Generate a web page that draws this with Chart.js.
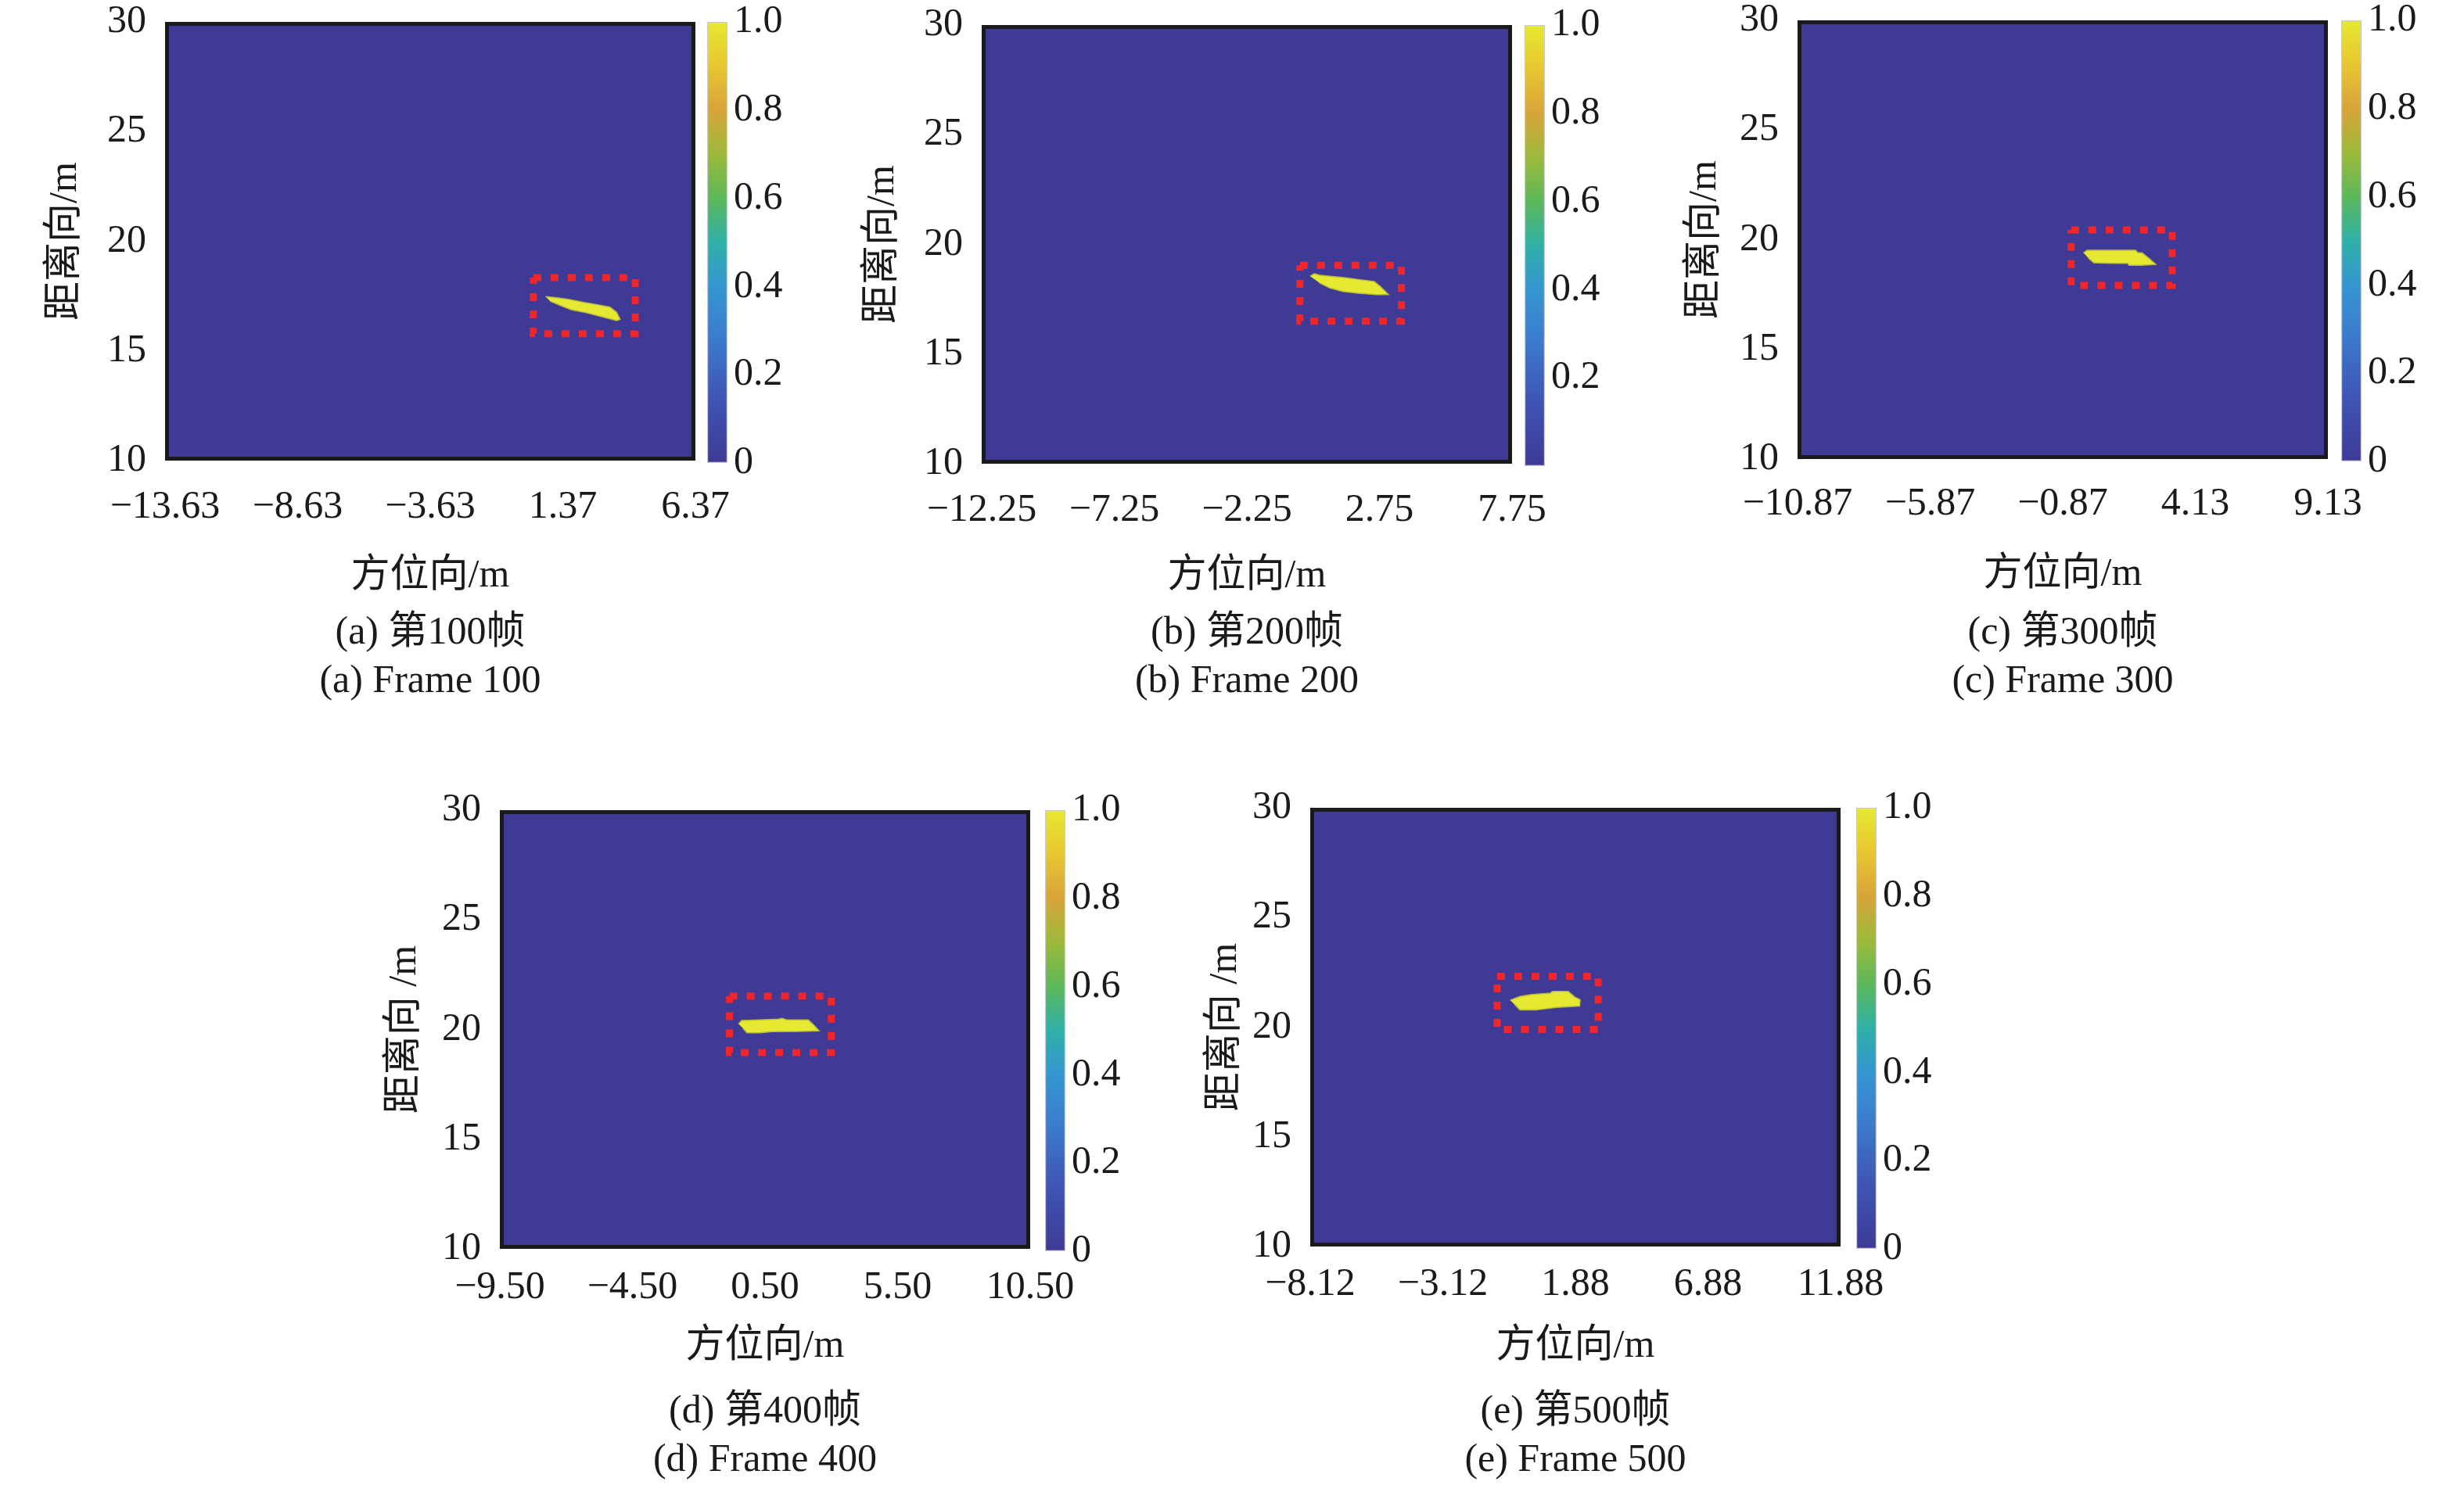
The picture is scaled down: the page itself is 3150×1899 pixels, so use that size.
<!DOCTYPE html>
<html>
<head>
<meta charset="utf-8">
<script src="https://cdn.jsdelivr.net/npm/chart.js@4.4.1/dist/chart.umd.min.js"></script>
<style>
body { margin: 0; background: #fff; width: 3150px; height: 1899px; position: relative; overflow: hidden; }
.cap { position: absolute; width: 700px; text-align: center; font: 50px "Liberation Serif", "Noto Sans CJK SC", serif; line-height: 60px; color: #1a1a1a; white-space: nowrap; }
</style>
</head>
<body>
<script>
// frames
const panelIds = ['a', 'b', 'c', 'd', 'e'];
const frameNums = [100, 200, 300, 400, 500];

// axis ticks
const yTicks = [10, 15, 20, 25, 30];
const xTicksA = [-13.63, -8.63, -3.63, 1.37, 6.37];
const xTicksB = [-12.25, -7.25, -2.25, 2.75, 7.75];
const xTicksC = [-10.87, -5.87, -0.87, 4.13, 9.13];
const xTicksD = [-9.50, -4.50, 0.50, 5.50, 10.50];
const xTicksE = [-8.12, -3.12, 1.88, 6.88, 11.88];
const cbTicksFull = [0, 0.2, 0.4, 0.6, 0.8, 1.0];
const cbTicksNoZero = [0.2, 0.4, 0.6, 0.8, 1.0];

// map values: background 0, target 1
const bgValue = 0;
const targetValue = 1;

// target outlines (value 1)
const blobAX = [0.72, 1.09, 1.58, 2.17, 2.76, 3.15, 3.40, 3.53, 3.40, 2.84, 2.27, 1.68, 1.29, 0.89];
const blobAY = [17.48, 17.43, 17.35, 17.21, 17.09, 17.00, 16.76, 16.44, 16.38, 16.56, 16.74, 16.88, 17.07, 17.27];
const blobBX = [0.14, 0.29, 0.48, 0.88, 1.37, 1.96, 2.55, 2.79, 3.09, 2.65, 1.96, 1.37, 0.88, 0.48];
const blobBY = [18.55, 18.66, 18.60, 18.55, 18.49, 18.40, 18.31, 18.07, 17.71, 17.71, 17.77, 17.85, 18.01, 18.25];
const blobCX = [-0.09, 0.05, 0.69, 1.28, 1.87, 1.97, 2.12, 2.37, 2.64, 2.07, 1.63, 1.58, 0.99, 0.30, 0.10];
const blobCY = [19.40, 19.52, 19.52, 19.52, 19.52, 19.40, 19.40, 19.16, 18.87, 18.83, 18.83, 18.92, 18.92, 18.95, 19.16];
const blobDX = [-0.50, -0.38, 0.26, 1.00, 1.15, 1.30, 2.13, 2.33, 2.54, 1.74, 0.76, 0.31, -0.18, -0.33];
const blobDY = [20.26, 20.41, 20.44, 20.47, 20.51, 20.45, 20.44, 20.21, 19.94, 19.91, 19.90, 19.85, 19.85, 20.05];
const blobEX = [-0.58, -0.21, 0.24, 0.93, 1.02, 1.61, 1.86, 2.06, 2.04, 1.17, 0.38, -0.21, -0.40];
const blobEY = [21.23, 21.40, 21.49, 21.55, 21.63, 21.63, 21.37, 21.25, 20.96, 20.90, 20.78, 20.78, 21.02];

// red dotted boxes: [xLeft, xRight, yBottom, yTop]
const boxA = [0.26, 4.10, 15.78, 18.34];
const boxB = [-0.25, 3.58, 16.50, 19.05];
const boxC = [-0.55, 3.26, 17.91, 20.45];
const boxD = [-0.84, 3.00, 18.95, 21.52];
const boxE = [-1.07, 2.74, 19.89, 22.32];

const xTickSets = [xTicksA, xTicksB, xTicksC, xTicksD, xTicksE];
const cbTickSets = [cbTicksFull, cbTicksNoZero, cbTicksFull, cbTicksFull, cbTicksFull];
const blobXs = [blobAX, blobBX, blobCX, blobDX, blobEX];
const blobYs = [blobAY, blobBY, blobCY, blobDY, blobEY];
const boxes = [boxA, boxB, boxC, boxD, boxE];
const yTitles = ['距离向/m', '距离向/m', '距离向/m', '距离向 /m', '距离向 /m'];

// colormap (parula-like, as printed)
const cmapStops = [0, 0.15, 0.3, 0.4, 0.5, 0.6, 0.7, 0.8, 0.9, 1];
const cmapColors = ['#3e3a96', '#3f55b5', '#3b7fcf', '#3496d0', '#2fb0a8', '#5cb85a', '#9dba3a', '#d8a43a', '#e8c630', '#e6e932'];

function colormap(v) {
    for (let k = 1; k < cmapStops.length; k++) {
        if (v <= cmapStops[k]) {
            const t = (v - cmapStops[k - 1]) / (cmapStops[k] - cmapStops[k - 1]);
            const a = hex(cmapColors[k - 1]), b = hex(cmapColors[k]);
            return 'rgb(' + a.map((c, j) => Math.round(c + (b[j] - c) * t)).join(',') + ')';
        }
    }
    return cmapColors[cmapColors.length - 1];
}
function hex(h) {
    return [1, 3, 5].map(p => parseInt(h.substr(p, 2), 16));
}

// page layout (pixels)
const PW = 678, PH = 561;
const pos = [
    { left: 211, top: 28, cb: 904, ytOff: 127, xPad: 30, xtPad: 2, capY: 806 },
    { left: 1255, top: 32, cb: 1949, ytOff: 126, xPad: 30, xtPad: 6, capY: 806 },
    { left: 2298, top: 26, cb: 2993, ytOff: 118, xPad: 28, xtPad: 2, capY: 806 },
    { left: 639, top: 1036, cb: 1336, ytOff: 121, xPad: 20, xtPad: 25, capY: 1802 },
    { left: 1675, top: 1033, cb: 2373, ytOff: 108, xPad: 19, xtPad: 22, capY: 1802 }
];

const FONT = '"Liberation Serif", "Noto Sans CJK SC", serif';
const TXT = '#1a1a1a';
const YW = 180, XH = 180, PADT = 70, PADR = 80, CBT = 50;

function fmt(v) {
    return v < 0 ? '\u2212' + Math.abs(v).toFixed(2) : v.toFixed(2);
}

function addCanvas(left, top, w, h) {
    const c = document.createElement('canvas');
    c.width = w;
    c.height = h;
    c.style.cssText = 'position:absolute;left:' + left + 'px;top:' + top + 'px;width:' + w + 'px;height:' + h + 'px';
    document.body.appendChild(c);
    return c.getContext('2d');
}

const heatPlugin = {
    id: 'heatPlugin',
    beforeDatasetsDraw(chart) {
        const { ctx, chartArea: a } = chart;
        ctx.save();
        ctx.fillStyle = colormap(bgValue);
        ctx.fillRect(a.left, a.top, a.width, a.height);
        ctx.restore();
    },
    afterDatasetsDraw(chart) {
        const { ctx, chartArea: a } = chart;
        ctx.save();
        ctx.strokeStyle = '#1a1a1a';
        ctx.lineWidth = 5;
        ctx.strokeRect(a.left + 2.5, a.top + 2.5, a.width - 5, a.height - 5);
        ctx.restore();
    }
};

panelIds.forEach(function(id, i) {
    const p = pos[i];
    const xt = xTickSets[i];
    const bx = boxes[i];

    const ctx = addCanvas(p.left - YW, p.top - PADT, YW + PW + PADR, PADT + PH + XH);
    new Chart(ctx, {
        type: 'scatter',
        data: {
            datasets: [{
                data: blobXs[i].map((x, k) => ({ x: x, y: blobYs[i][k] })),
                showLine: true,
                fill: 'shape',
                backgroundColor: colormap(targetValue),
                borderColor: '#b8ba3c',
                borderWidth: 1.5,
                pointRadius: 0
            }, {
                data: [
                    { x: bx[0], y: bx[3] }, { x: bx[1], y: bx[3] },
                    { x: bx[1], y: bx[2] }, { x: bx[0], y: bx[2] },
                    { x: bx[0], y: bx[3] }
                ],
                showLine: true,
                fill: false,
                borderColor: '#f0262b',
                borderWidth: 9,
                borderDash: [10, 12],
                pointRadius: 0
            }]
        },
        options: {
            responsive: false,
            animation: false,
            devicePixelRatio: 1,
            layout: { padding: { left: 0, top: PADT, right: PADR, bottom: 0 } },
            plugins: { legend: { display: false }, tooltip: { enabled: false } },
            scales: {
                x: {
                    type: 'linear',
                    min: xt[0],
                    max: xt[xt.length - 1],
                    grid: { display: false, drawTicks: false },
                    border: { display: false },
                    ticks: {
                        font: { family: FONT, size: 50 },
                        color: TXT,
                        padding: p.xPad,
                        maxRotation: 0,
                        autoSkip: false,
                        callback: v => fmt(v)
                    },
                    afterBuildTicks: s => { s.ticks = xt.map(v => ({ value: v })); },
                    afterFit: s => { s.height = XH; },
                    title: {
                        display: true,
                        text: '方位向/m',
                        font: { family: FONT, size: 50 },
                        color: TXT,
                        padding: { top: 0, bottom: p.xtPad }
                    }
                },
                y: {
                    type: 'linear',
                    min: yTicks[0],
                    max: yTicks[yTicks.length - 1],
                    grid: { display: false, drawTicks: false },
                    border: { display: false },
                    ticks: {
                        font: { family: FONT, size: 50 },
                        color: TXT,
                        padding: 24,
                        callback: v => String(v)
                    },
                    afterBuildTicks: s => { s.ticks = yTicks.map(v => ({ value: v })); },
                    afterFit: s => { s.width = YW; },
                    title: {
                        display: true,
                        text: yTitles[i],
                        font: { family: FONT, size: 50 },
                        color: TXT,
                        padding: { top: 150 - p.ytOff, bottom: 0 }
                    }
                }
            }
        },
        plugins: [heatPlugin]
    });

    // colour bar
    const cbt = cbTickSets[i];
    const cctx = addCanvas(p.cb, p.top - CBT, 26 + 100, CBT + PH + 3 + CBT);
    new Chart(cctx, {
        type: 'bar',
        data: {
            labels: [''],
            datasets: [{
                data: [targetValue],
                backgroundColor: function(c) {
                    const a = c.chart.chartArea;
                    if (!a) return colormap(bgValue);
                    const g = c.chart.ctx.createLinearGradient(0, a.bottom, 0, a.top);
                    cmapStops.forEach((s, k) => g.addColorStop(s, cmapColors[k]));
                    return g;
                },
                borderColor: '#c9c9d4',
                borderWidth: 1.5,
                borderSkipped: false,
                barPercentage: 1,
                categoryPercentage: 1
            }]
        },
        options: {
            responsive: false,
            animation: false,
            devicePixelRatio: 1,
            layout: { padding: { left: 0, top: CBT, right: 0, bottom: CBT } },
            plugins: { legend: { display: false }, tooltip: { enabled: false } },
            scales: {
                x: { display: false },
                y: {
                    position: 'right',
                    min: bgValue,
                    max: targetValue,
                    grid: { display: false, drawTicks: false },
                    border: { display: false },
                    ticks: {
                        font: { family: FONT, size: 50 },
                        color: TXT,
                        padding: 8,
                        callback: v => (v === 0 ? '0' : v.toFixed(1))
                    },
                    afterBuildTicks: s => { s.ticks = cbt.map(v => ({ value: v })); },
                    afterFit: s => { s.width = 100; }
                }
            }
        }
    });

    // captions
    const cx = p.left + PW / 2;
    const cap1 = document.createElement('div');
    cap1.className = 'cap';
    cap1.style.left = (cx - 350) + 'px';
    cap1.style.top = (p.capY - 30) + 'px';
    cap1.textContent = '(' + id + ') 第' + frameNums[i] + '帧';
    document.body.appendChild(cap1);
    const cap2 = document.createElement('div');
    cap2.className = 'cap';
    cap2.style.left = (cx - 350) + 'px';
    cap2.style.top = (p.capY + 32) + 'px';
    cap2.textContent = '(' + id + ') Frame ' + frameNums[i];
    document.body.appendChild(cap2);
});
</script>
</body>
</html>
